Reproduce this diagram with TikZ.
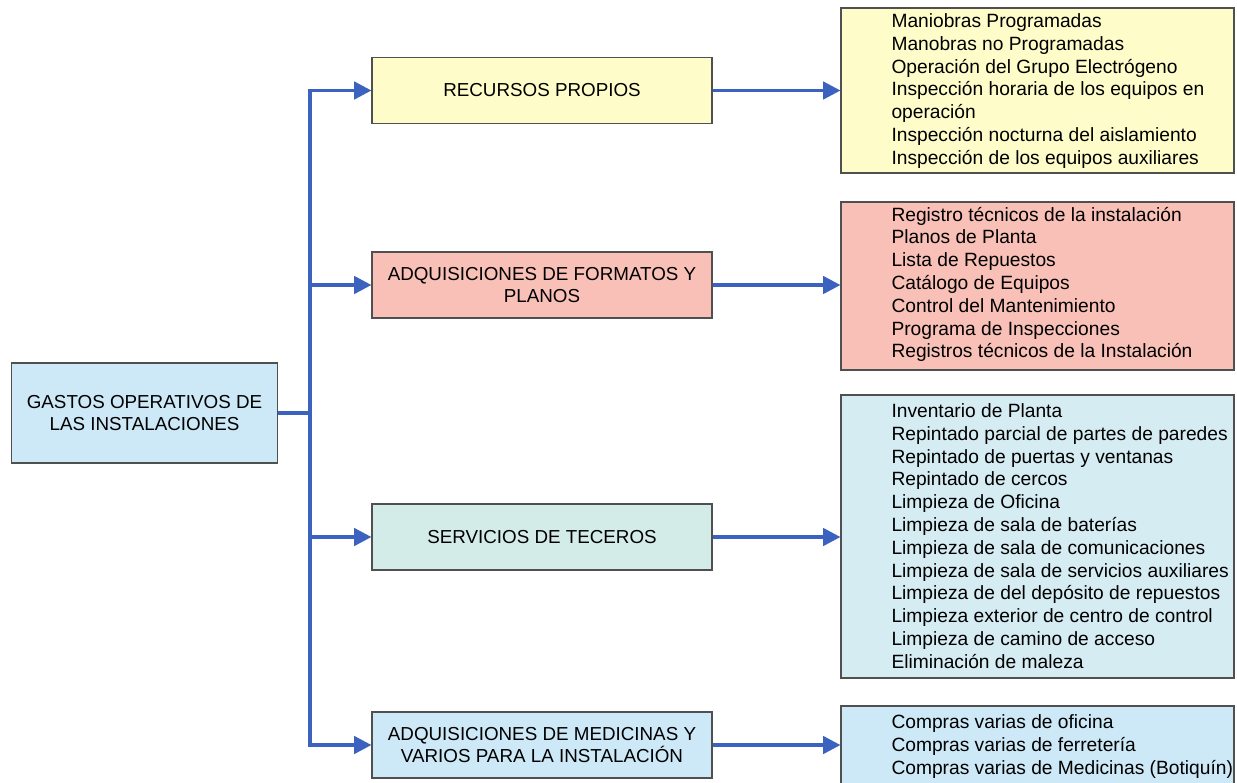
\documentclass[tikz,border=0pt]{standalone}
\usepackage{fontspec}
\setmainfont{Liberation Sans}
\usetikzlibrary{arrows.meta}

\definecolor{feedblue}{RGB}{58,98,190}
\definecolor{edgegray}{RGB}{80,80,80}
\definecolor{rootfill}{RGB}{205,232,246}
\definecolor{propiofill}{RGB}{254,252,200}
\definecolor{formatofill}{RGB}{248,192,182}
\definecolor{tercerofill}{RGB}{212,236,232}
\definecolor{limpiezafill}{RGB}{214,236,243}
\definecolor{medicinafill}{RGB}{205,232,246}

\tikzset{every picture/.style={line width=0.75pt}}
\tikzset{
  catbox/.style={draw=edgegray, line width=0.8pt, minimum width=255pt, minimum height=49.5pt,
    align=center, font=\fontsize{14.1pt}{16.5pt}\selectfont},
  listbox/.style={draw=edgegray, line width=0.8pt, minimum width=294.75pt},
  listtext/.style={anchor=west, align=left, inner sep=0pt, font=\fontsize{14.4pt}{17.1pt}\selectfont},
  feed/.style={draw=feedblue, line width=2.6pt, -{Triangle[length=13pt, width=13pt]}}
}

\begin{document}
\begin{tikzpicture}[x=0.75pt,y=0.75pt,yscale=-1,xscale=1]
    \useasboundingbox (0,0) rectangle (1237,782);

    %Root box
    \node [catbox, fill=rootfill, minimum width=200pt, minimum height=75pt] (gastos) at (144.5,413) {GASTOS OPERATIVOS DE\\LAS INSTALACIONES};

    %Middle boxes
    \node [catbox, fill=propiofill] (propios) at (542,90.5) {RECURSOS PROPIOS};
    \node [catbox, fill=formatofill] (formatos) at (542,285) {ADQUISICIONES DE FORMATOS Y\\PLANOS};
    \node [catbox, fill=tercerofill] (terceros) at (542,537) {SERVICIOS DE TECEROS};
    \node [catbox, fill=medicinafill] (medicinas) at (542,745) {ADQUISICIONES DE MEDICINAS Y\\VARIOS PARA LA INSTALACIÓN};

    %Right boxes
    \node [listbox, fill=propiofill, minimum height=123.75pt] (lpropios) at (1037.5,90.5) {};
    \node [listbox, fill=formatofill, minimum height=126pt] (lformatos) at (1037.5,286) {};
    \node [listbox, fill=limpiezafill, minimum height=212.25pt] (lterceros) at (1037.5,536.5) {};
    \node [listbox, fill=medicinafill, minimum height=60pt] (lmedicinas) at (1037.5,746) {};

    % Text Nodes
    \node [listtext] (tpropios) at (891,91) {Maniobras Programadas\\Manobras no Programadas\\Operación del Grupo Electrógeno\\Inspección horaria de los equipos en\\operación\\Inspección nocturna del aislamiento\\Inspección de los equipos auxiliares};
    \node [listtext] (tformatos) at (891,284.5) {Registro técnicos de la instalación\\Planos de Planta\\Lista de Repuestos\\Catálogo de Equipos\\Control del Mantenimiento\\Programa de Inspecciones\\Registros técnicos de la Instalación};
    \node [listtext] (tterceros) at (891,536) {Inventario de Planta\\Repintado parcial de partes de paredes\\Repintado de puertas y ventanas\\Repintado de cercos\\Limpieza de Oficina\\Limpieza de sala de baterías\\Limpieza de sala de comunicaciones\\Limpieza de sala de servicios auxiliares\\Limpieza de del depósito de repuestos\\Limpieza exterior de centro de control\\Limpieza de camino de acceso\\Eliminación de maleza};
    \node [listtext] (tmedicinas) at (891,746.5) {Compras varias de oficina\\Compras varias de ferretería\\Compras varias de Medicinas (Botiquín)};

    %Connectors
    \coordinate (trunk) at (310,413);
    \draw [feedblue, line width=2.6pt] (gastos.east) -- (trunk);
    \draw [feed] (trunk) |- (propios.west);
    \draw [feed] (trunk |- formatos.west) -- (formatos.west);
    \draw [feed] (trunk |- terceros.west) -- (terceros.west);
    \draw [feed] (trunk) |- (medicinas.west);

    \draw [feed] (propios.east) -- (propios.east -| lpropios.west);
    \draw [feed] (formatos.east) -- (formatos.east -| lformatos.west);
    \draw [feed] (terceros.east) -- (terceros.east -| lterceros.west);
    \draw [feed] (medicinas.east) -- (medicinas.east -| lmedicinas.west);
\end{tikzpicture}
\end{document}
